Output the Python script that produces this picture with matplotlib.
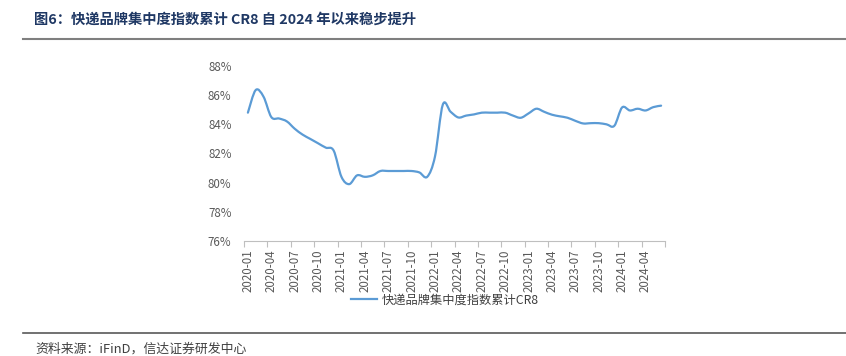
import matplotlib
matplotlib.use("Agg")
import matplotlib.pyplot as plt
from matplotlib.path import Path
from matplotlib.patches import PathPatch
from matplotlib.lines import Line2D
import numpy as np

plt.rcParams['font.family'] = ['Noto Sans CJK SC', 'DejaVu Sans']

# ---- data ----
months = [f"{y}-{m:02d}" for y in range(2020, 2025) for m in range(1, 13)][:54]
cr8 = [84.8, 86.35, 85.9, 84.5, 84.4, 84.2, 83.7, 83.3, 83.0, 82.7, 82.4, 82.2,
       80.4, 79.9, 80.5, 80.4, 80.5, 80.8, 80.8, 80.8, 80.8, 80.8, 80.7, 80.4,
       81.8, 85.35, 84.86, 84.47, 84.6, 84.68, 84.8, 84.8, 84.8, 84.8, 84.6, 84.45,
       84.75, 85.07, 84.86, 84.66, 84.55, 84.45, 84.24, 84.06, 84.08, 84.08, 84.0, 83.9,
       85.16, 84.95, 85.07, 84.95, 85.18, 85.28]
series_name = "快递品牌集中度指数累计CR8"
title = "图6：快递品牌集中度指数累计 CR8 自 2024 年以来稳步提升"
source = "资料来源：iFinD，信达证券研发中心"
yticks = [76, 78, 80, 82, 84, 86, 88]

line_color = "#5B9BD5"
text_gray = "#595959"

W, H = 846, 356
fig = plt.figure(figsize=(W / 100, H / 100), dpi=100)

ax = fig.add_axes([244 / W, 1 - 241 / H, (665 - 244) / W, (241 - 66) / H])
n = len(cr8)
x = np.arange(n, dtype=float)
y = np.array(cr8, dtype=float)

# smoothed line (Catmull-Rom as cubic Bezier) in data coordinates
verts = [(x[0], y[0])]
codes = [Path.MOVETO]
for i in range(n - 1):
    p0 = np.array([x[max(i - 1, 0)], y[max(i - 1, 0)]])
    p1 = np.array([x[i], y[i]])
    p2 = np.array([x[i + 1], y[i + 1]])
    p3 = np.array([x[min(i + 2, n - 1)], y[min(i + 2, n - 1)]])
    c1 = p1 + (p2 - p0) / 6.0
    c2 = p2 - (p3 - p1) / 6.0
    verts += [tuple(c1), tuple(c2), tuple(p2)]
    codes += [Path.CURVE4] * 3
ax.add_patch(PathPatch(Path(verts, codes), fill=False, edgecolor=line_color,
                       lw=1.6, capstyle='round', joinstyle='round'))

ax.set_xlim(-0.5, n - 0.5)
ax.set_ylim(76, 88)

# y axis
ax.set_yticks(yticks)
ax.set_yticklabels([f"{v}%" for v in yticks], fontsize=8.3, color=text_gray)
ax.tick_params(axis='y', length=0, pad=9)

# x axis: tick marks at boundaries, labels at category centres
ax.set_xticks(np.arange(-0.5, n, 3))
ax.set_xticklabels([])
ax.tick_params(axis='x', which='major', length=4, color="#BFBFBF", width=0.8)
ax.set_xticks(np.arange(0, n, 3), minor=True)
ax.set_xticklabels(months[::3], minor=True, rotation=90, fontsize=8.3, color=text_gray)
ax.tick_params(axis='x', which='minor', length=0, pad=6)

for s in ['top', 'right', 'left']:
    ax.spines[s].set_visible(False)
ax.spines['bottom'].set_color("#BFBFBF")
ax.spines['bottom'].set_linewidth(0.8)

# legend
handle = Line2D([], [], color=line_color, lw=1.6)
fig.legend([handle], [series_name], loc='center', bbox_to_anchor=(445 / W, 1 - 300 / H),
           frameon=False, fontsize=8.8, handlelength=2.1, handletextpad=0.4,
           labelcolor="#404040")

# title and rules
fig.text(34 / W, 1 - 20 / H, title, fontsize=10.3, fontweight='bold', color="#1F3864",
         ha='left', va='center')
fig.add_artist(Line2D([23 / W, 1.0], [1 - 38.5 / H] * 2, color="#7F7F7F", lw=1.5))
fig.add_artist(Line2D([23 / W, 1.0], [1 - 332.5 / H] * 2, color="#595959", lw=1.2))
fig.text(35 / W, 1 - 349 / H, source, fontsize=9.3, color="#404040", style='italic',
         ha='left', va='center')

fig.savefig("out.png", dpi=100)
